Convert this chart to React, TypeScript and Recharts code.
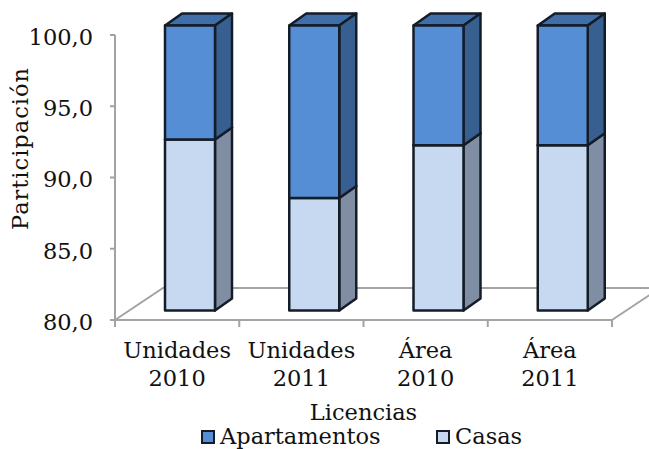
import React from 'react';
import { BarChart, Bar, XAxis, YAxis, Legend, Customized } from 'recharts';

const categories = ['Unidades 2010', 'Unidades 2011', 'Área 2010', 'Área 2011'];
const casas = [92, 87.9, 91.6, 91.6];
const apartamentos = [8, 12.1, 8.4, 8.4];
const yTicks = [80, 85, 90, 95, 100];

const data = categories.map((name, i) => ({ name, casas: casas[i], apartamentos: apartamentos[i] }));

const FONT = '"DejaVu Serif", serif';
const FONT_SIZE = 22.5;
const TEXT = '#111111';
const AXIS = '#a3a3a3';
const EDGE = '#141c28';

const WIDTH = 649;
const HEIGHT = 449;
const LEFT = 115;
const RIGHT = 612;
const TOP = 35;
const BOTTOM = 320;
const LEGEND_H = 24;

// 3D look: the bars sit forward on the floor, the box has a depth
const SHIFT_X = 13;
const SHIFT_Y = -9.5;
const DEPTH_X = 17;
const DEPTH_Y = -12;
const FLOOR_X = 48;
const FLOOR_Y = -32;

const box = (front: string, side: string, top: string) => (props: any) => {
  const { x, y, width, height } = props;
  const l = x + SHIFT_X;
  const t = y + SHIFT_Y;
  const r = l + width;
  const b = t + height;
  return (
    <g stroke={EDGE} strokeWidth={2.5} strokeLinejoin="round">
      <polygon
        points={`${l},${t} ${l + DEPTH_X},${t + DEPTH_Y} ${r + DEPTH_X},${t + DEPTH_Y} ${r},${t}`}
        fill={top}
      />
      <polygon
        points={`${r},${t} ${r + DEPTH_X},${t + DEPTH_Y} ${r + DEPTH_X},${b + DEPTH_Y} ${r},${b}`}
        fill={side}
      />
      <rect x={l} y={t} width={width} height={height} fill={front} />
    </g>
  );
};

const Floor = () => (
  <g stroke={AXIS} strokeWidth={2} fill="none">
    <polyline
      points={`${LEFT},${BOTTOM} ${LEFT + FLOOR_X},${BOTTOM + FLOOR_Y} ${RIGHT + FLOOR_X},${BOTTOM + FLOOR_Y} ${RIGHT},${BOTTOM}`}
    />
  </g>
);

const CategoryTick = (props: any) => {
  const { x, payload, index } = props;
  const band = (RIGHT - LEFT) / categories.length;
  const [a, b] = String(payload.value).split(' ');
  return (
    <g>
      <line x1={x - band / 2} x2={x - band / 2} y1={BOTTOM} y2={BOTTOM + 7} stroke={AXIS} strokeWidth={2} />
      {index === categories.length - 1 && (
        <line x1={x + band / 2} x2={x + band / 2} y1={BOTTOM} y2={BOTTOM + 7} stroke={AXIS} strokeWidth={2} />
      )}
      <text x={x} y={358} textAnchor="middle" fontFamily={FONT} fontSize={FONT_SIZE} fill={TEXT}>{a}</text>
      <text x={x} y={386} textAnchor="middle" fontFamily={FONT} fontSize={FONT_SIZE} fill={TEXT}>{b}</text>
    </g>
  );
};

const legendItems = [
  { name: 'Apartamentos', color: '#558ed5', left: 202 },
  { name: 'Casas', color: '#c6d9f1', left: 437 },
];

const LegendContent = () => (
  <svg width={WIDTH} height={LEGEND_H} style={{ display: 'block', overflow: 'visible' }}>
    {legendItems.map(item => (
      <g key={item.name}>
        <rect x={item.left} y={6} width={12} height={12} fill={item.color} stroke={EDGE} strokeWidth={2} />
        <text x={item.left + 18} y={19} fontFamily={FONT} fontSize={FONT_SIZE} fill={TEXT}>{item.name}</text>
      </g>
    ))}
  </svg>
);

export default function App() {
  return (
    <div style={{ position: 'absolute', left: 0, top: 0, width: WIDTH, height: HEIGHT, background: '#fff' }}>
      {/* the boxes stand above the plot area, so the bar clip has to go */}
      <style>{'.recharts-wrapper g { clip-path: none; }'}</style>
      <BarChart
        width={WIDTH}
        height={HEIGHT}
        data={data}
        margin={{ top: TOP, right: WIDTH - RIGHT, bottom: 0, left: 0 }}
        barSize={50}
      >
        <Customized component={Floor} />
        <XAxis
          dataKey="name"
          height={HEIGHT - BOTTOM - LEGEND_H}
          interval={0}
          tick={<CategoryTick />}
          tickLine={false}
          axisLine={{ stroke: AXIS, strokeWidth: 2 }}
          label={{ value: 'Licencias', position: 'insideBottom', offset: 5, fontFamily: FONT, fontSize: FONT_SIZE, fill: TEXT }}
        />
        <YAxis
          width={LEFT}
          domain={[80, 100]}
          ticks={yTicks}
          allowDataOverflow
          tickFormatter={(v: number) => v.toFixed(1).replace('.', ',')}
          tick={{ fontFamily: FONT, fontSize: FONT_SIZE, fill: TEXT, dy: 2 }}
          tickSize={5}
          tickMargin={17}
          tickLine={{ stroke: AXIS, strokeWidth: 2 }}
          axisLine={{ stroke: AXIS, strokeWidth: 2 }}
          label={{ value: 'Participación', angle: -90, position: 'insideLeft', dx: 15, dy: -29, textAnchor: 'middle', fontFamily: FONT, fontSize: FONT_SIZE, letterSpacing: 1, fill: TEXT }}
        />
        <Legend height={LEGEND_H} content={<LegendContent />} />
        <Bar dataKey="casas" stackId="a" isAnimationActive={false} fill="#c6d9f1" shape={box('#c6d9f1', '#7f8ea3', '#9db0c8')} />
        <Bar dataKey="apartamentos" stackId="a" isAnimationActive={false} fill="#558ed5" shape={box('#558ed5', '#375f8f', '#3f6ea8')} />
      </BarChart>
    </div>
  );
}
